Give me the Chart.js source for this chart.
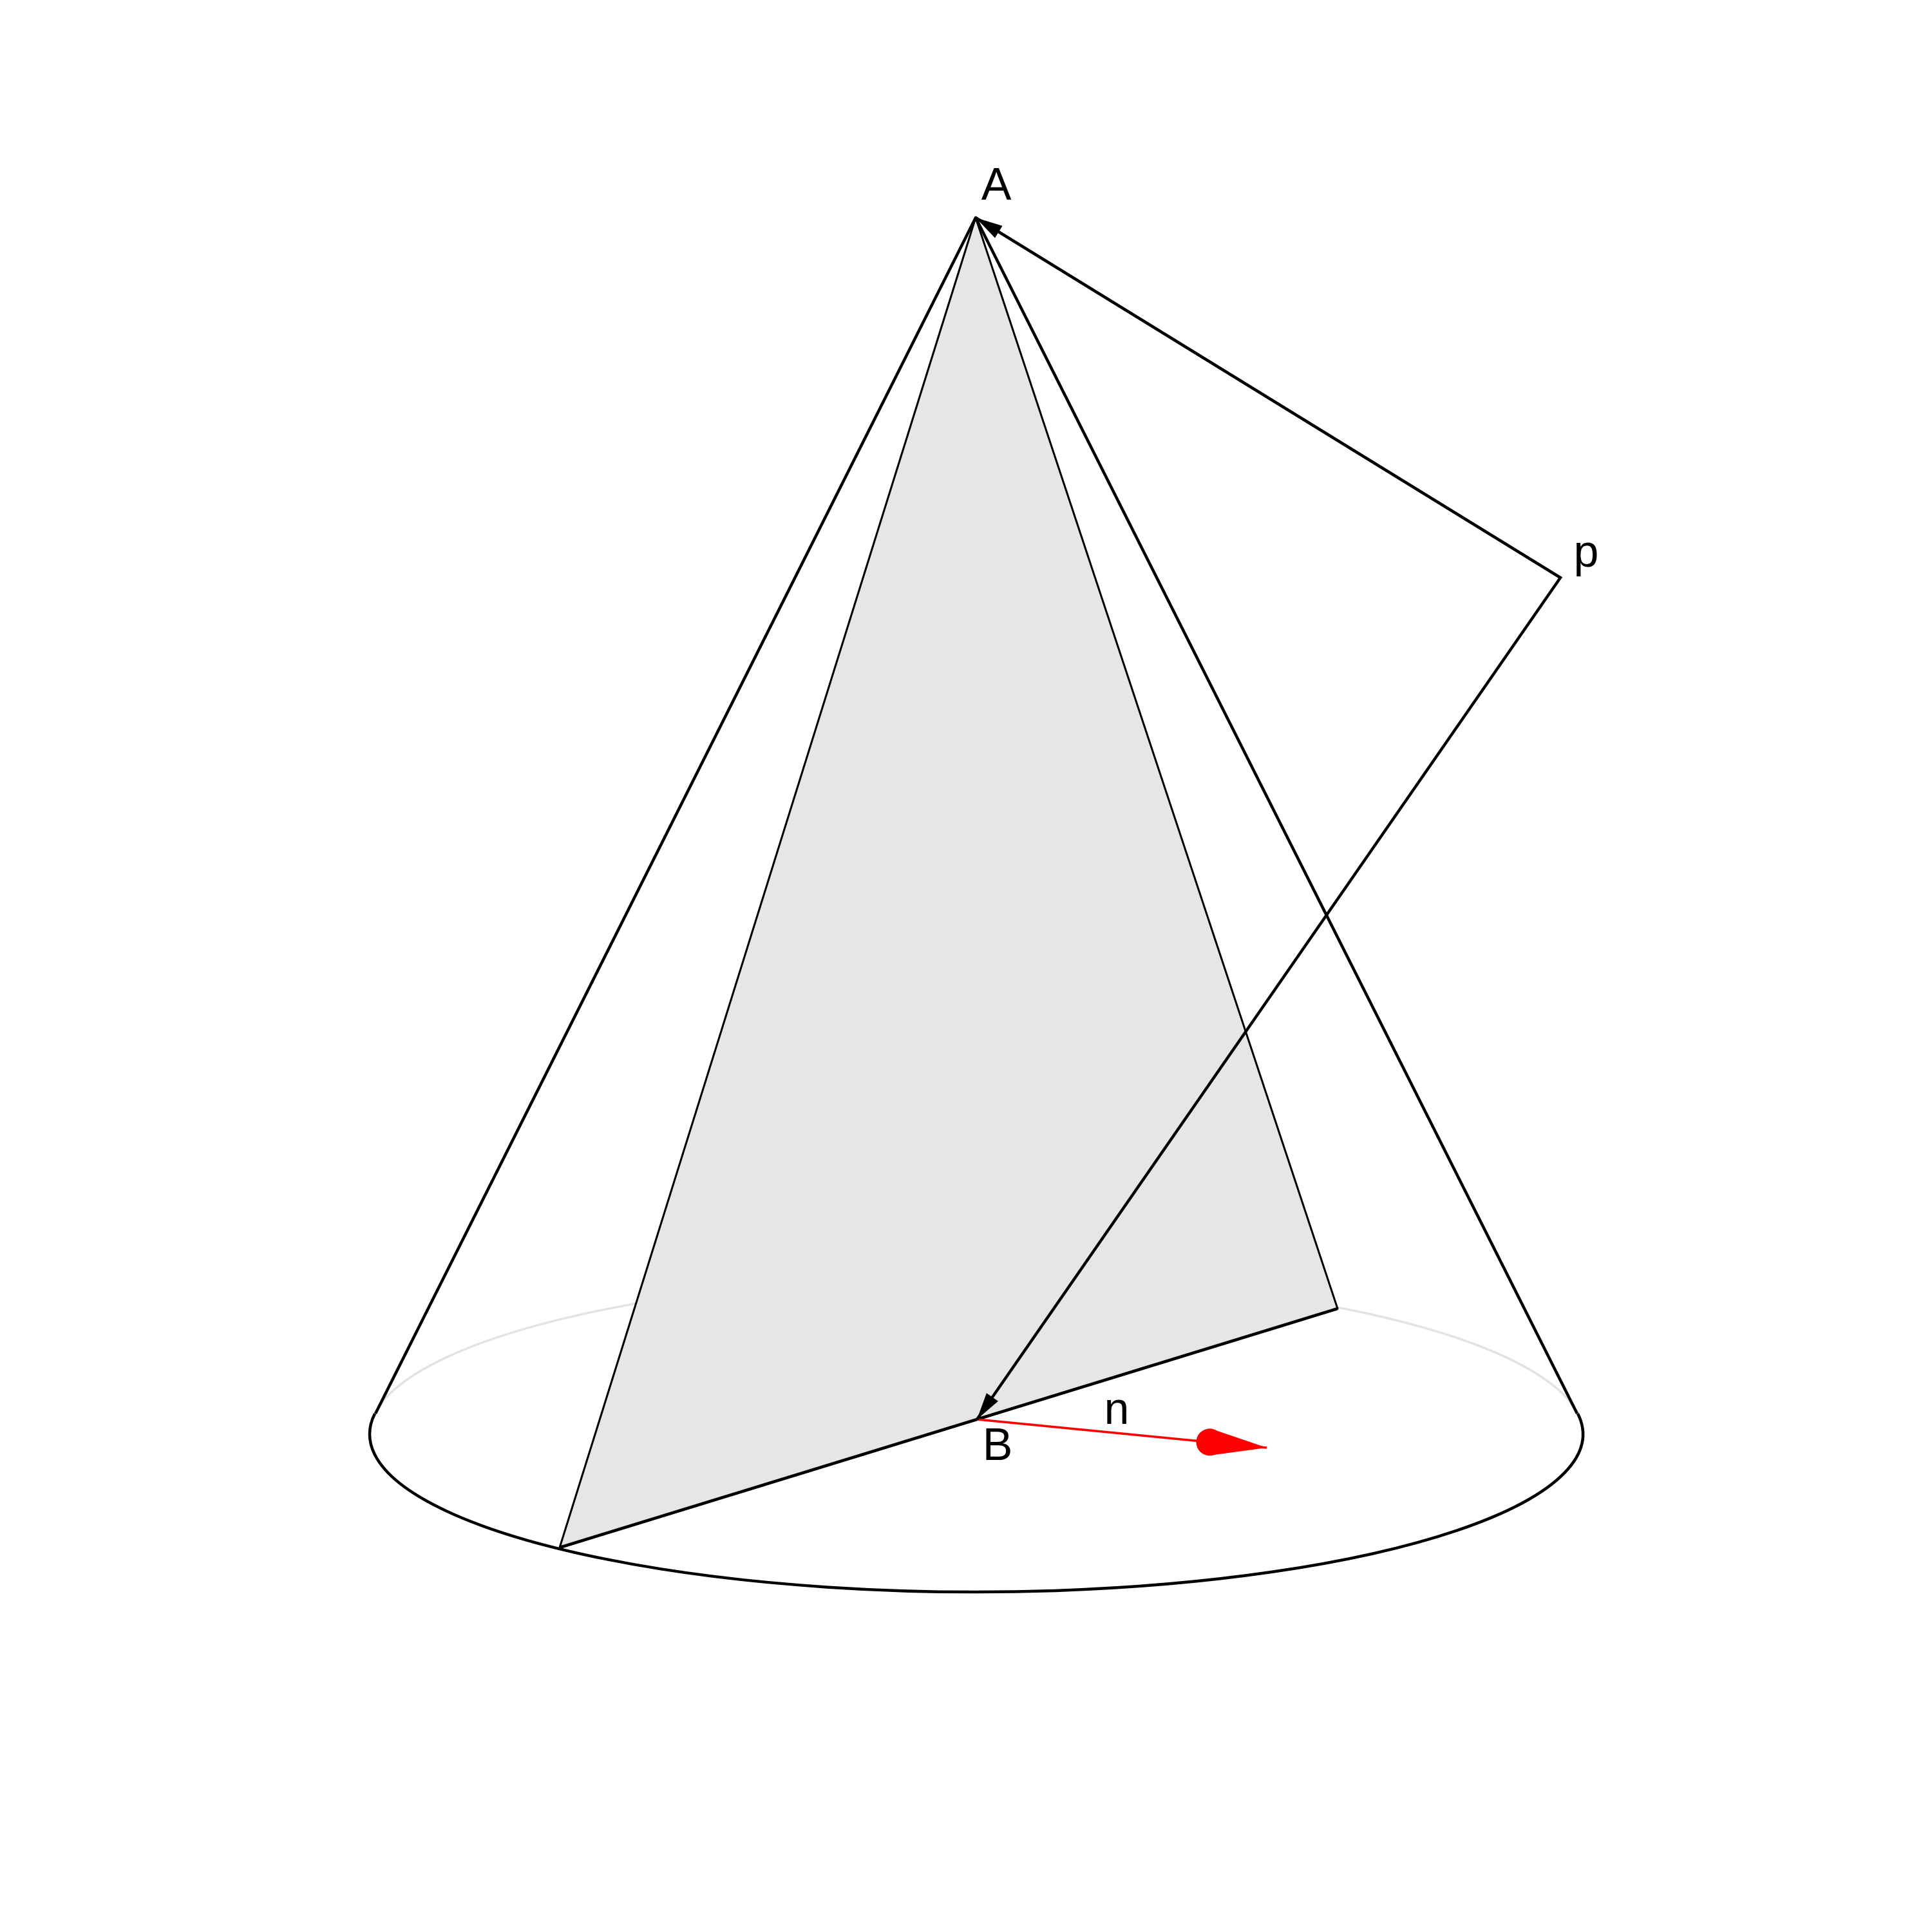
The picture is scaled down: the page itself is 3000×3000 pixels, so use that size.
<!DOCTYPE html>
<html>
<head>
<meta charset="utf-8">
<script src="https://cdn.jsdelivr.net/npm/chart.js@4.4.1/dist/chart.umd.min.js"></script>
<style>
  html, body { margin: 0; padding: 0; background: #fff; }
  canvas { display: block; }
</style>
</head>
<body>
<canvas id="cone" width="3000" height="3000"></canvas>
<script>
// Points (picture units, y downward)
const apex = [1515, 338];
const baseLeft = [583, 2195];
const baseRight = [2449, 2195];
const baseCenter = [1516, 2227];
const baseRadii = [942, 245];
const sectionX = [1515, 869, 2077];
const sectionY = [338, 2403, 2032];
const pointP = [2423, 897];
const pointB = [1517, 2204];
const normalTip = [1967, 2248];

const labelText = ['A', 'B', 'p', 'n'];
const labelX = [1547, 1549, 2463, 1734];
const labelY = [310, 2267, 880, 2211];

const pt = (p) => ({ x: p[0], y: p[1] });

// ellipse base: gray back arc under everything, black front arc on top
const baseEllipse = {
  id: 'baseEllipse',
  beforeDatasetsDraw(chart) {
    drawArc(chart, true);
  },
  afterDatasetsDraw(chart) {
    drawArc(chart, false);
    drawHeads(chart);
    drawLabels(chart);
  }
};

function drawArc(chart, back) {
  const { ctx, scales: { x, y } } = chart;
  const cx = x.getPixelForValue(baseCenter[0]);
  const cy = y.getPixelForValue(baseCenter[1]);
  const rx = Math.abs(x.getPixelForValue(baseCenter[0] + baseRadii[0]) - cx);
  const ry = Math.abs(y.getPixelForValue(baseCenter[1] + baseRadii[1]) - cy);
  const ang = (p) => Math.atan2((y.getPixelForValue(p[1]) - cy) / ry, (x.getPixelForValue(p[0]) - cx) / rx);
  const tR = ang(baseRight);
  let tL = ang(baseLeft);
  if (tL < 0) tL += 2 * Math.PI;
  ctx.save();
  ctx.beginPath();
  if (back) {
    ctx.ellipse(cx, cy, rx, ry, 0, tL, tR + 2 * Math.PI);
    ctx.strokeStyle = '#e3e3e3';
    ctx.lineWidth = 3.5;
  } else {
    ctx.ellipse(cx, cy, rx, ry, 0, tR, tL);
    ctx.strokeStyle = '#000';
    ctx.lineWidth = 4.5;
  }
  ctx.stroke();
  ctx.restore();
}

function drawHeads(chart) {
  const { ctx, scales: { x, y } } = chart;
  const px = (p) => [x.getPixelForValue(p[0]), y.getPixelForValue(p[1])];

  const head = (from, to, len, half, color) => {
    const [x0, y0] = px(from);
    const [x1, y1] = px(to);
    const d = Math.hypot(x1 - x0, y1 - y0);
    const ux = (x1 - x0) / d, uy = (y1 - y0) / d;
    const bx = x1 - ux * len, by = y1 - uy * len;
    ctx.beginPath();
    ctx.moveTo(x1, y1);
    ctx.lineTo(bx - uy * half, by + ux * half);
    ctx.lineTo(bx + uy * half, by - ux * half);
    ctx.closePath();
    ctx.fillStyle = color;
    ctx.fill();
    return [bx, by];
  };

  ctx.save();
  head(pointP, apex, 42, 11, '#000');
  head(pointP, pointB, 42, 11, '#000');
  // red normal: round blob plus pointed tip
  const [bx, by] = head(pointB, normalTip, 89, 21, '#ff0000');
  ctx.beginPath();
  ctx.arc(bx, by, 21, 0, 2 * Math.PI);
  ctx.fill();
  ctx.restore();
}

function drawLabels(chart) {
  const { ctx, scales: { x, y } } = chart;
  ctx.save();
  ctx.font = '70px "Liberation Sans", Arial, sans-serif';
  ctx.fillStyle = '#000';
  ctx.textAlign = 'center';
  ctx.textBaseline = 'alphabetic';
  labelText.forEach((t, i) => {
    ctx.fillText(t, x.getPixelForValue(labelX[i]), y.getPixelForValue(labelY[i]));
  });
  ctx.restore();
}

const sectionData = sectionX.map((v, i) => ({ x: v, y: sectionY[i] }));
sectionData.push({ x: sectionX[0], y: sectionY[0] });

const ctx = document.getElementById('cone').getContext('2d');
const chart = new Chart(ctx, {
  type: 'scatter',
  data: {
    datasets: [
      {
        // p -> A and p -> B
        data: [pt(apex), pt(pointP), pt(pointB)],
        borderColor: '#000', borderWidth: 4.5, borderJoinStyle: 'miter',
        showLine: true, pointRadius: 0, order: 1
      },
      {
        // normal vector n at B
        data: [pt(pointB), pt(normalTip)],
        borderColor: '#ff0000', borderWidth: 3.5,
        showLine: true, pointRadius: 0, order: 2
      },
      {
        // cone sides
        data: [pt(baseLeft), pt(apex), pt(baseRight)],
        borderColor: '#000', borderWidth: 4.5, borderJoinStyle: 'round',
        showLine: true, pointRadius: 0, order: 3
      },
      {
        // chord through B
        data: [pt([sectionX[1], sectionY[1]]), pt([sectionX[2], sectionY[2]])],
        borderColor: '#000', borderWidth: 4.5,
        showLine: true, pointRadius: 0, order: 4
      },
      {
        // axial section triangle
        data: sectionData,
        borderColor: '#000', borderWidth: 3, borderJoinStyle: 'round',
        backgroundColor: '#e6e6e6', fill: 'shape',
        showLine: true, pointRadius: 0, order: 5
      }
    ]
  },
  options: {
    responsive: false,
    animation: false,
    devicePixelRatio: 1,
    layout: { padding: 0 },
    scales: {
      x: { type: 'linear', min: 0, max: 3000, display: false },
      y: { type: 'linear', min: 0, max: 3000, reverse: true, display: false }
    },
    plugins: {
      legend: { display: false },
      tooltip: { enabled: false }
    }
  },
  plugins: [baseEllipse]
});
</script>
</body>
</html>
